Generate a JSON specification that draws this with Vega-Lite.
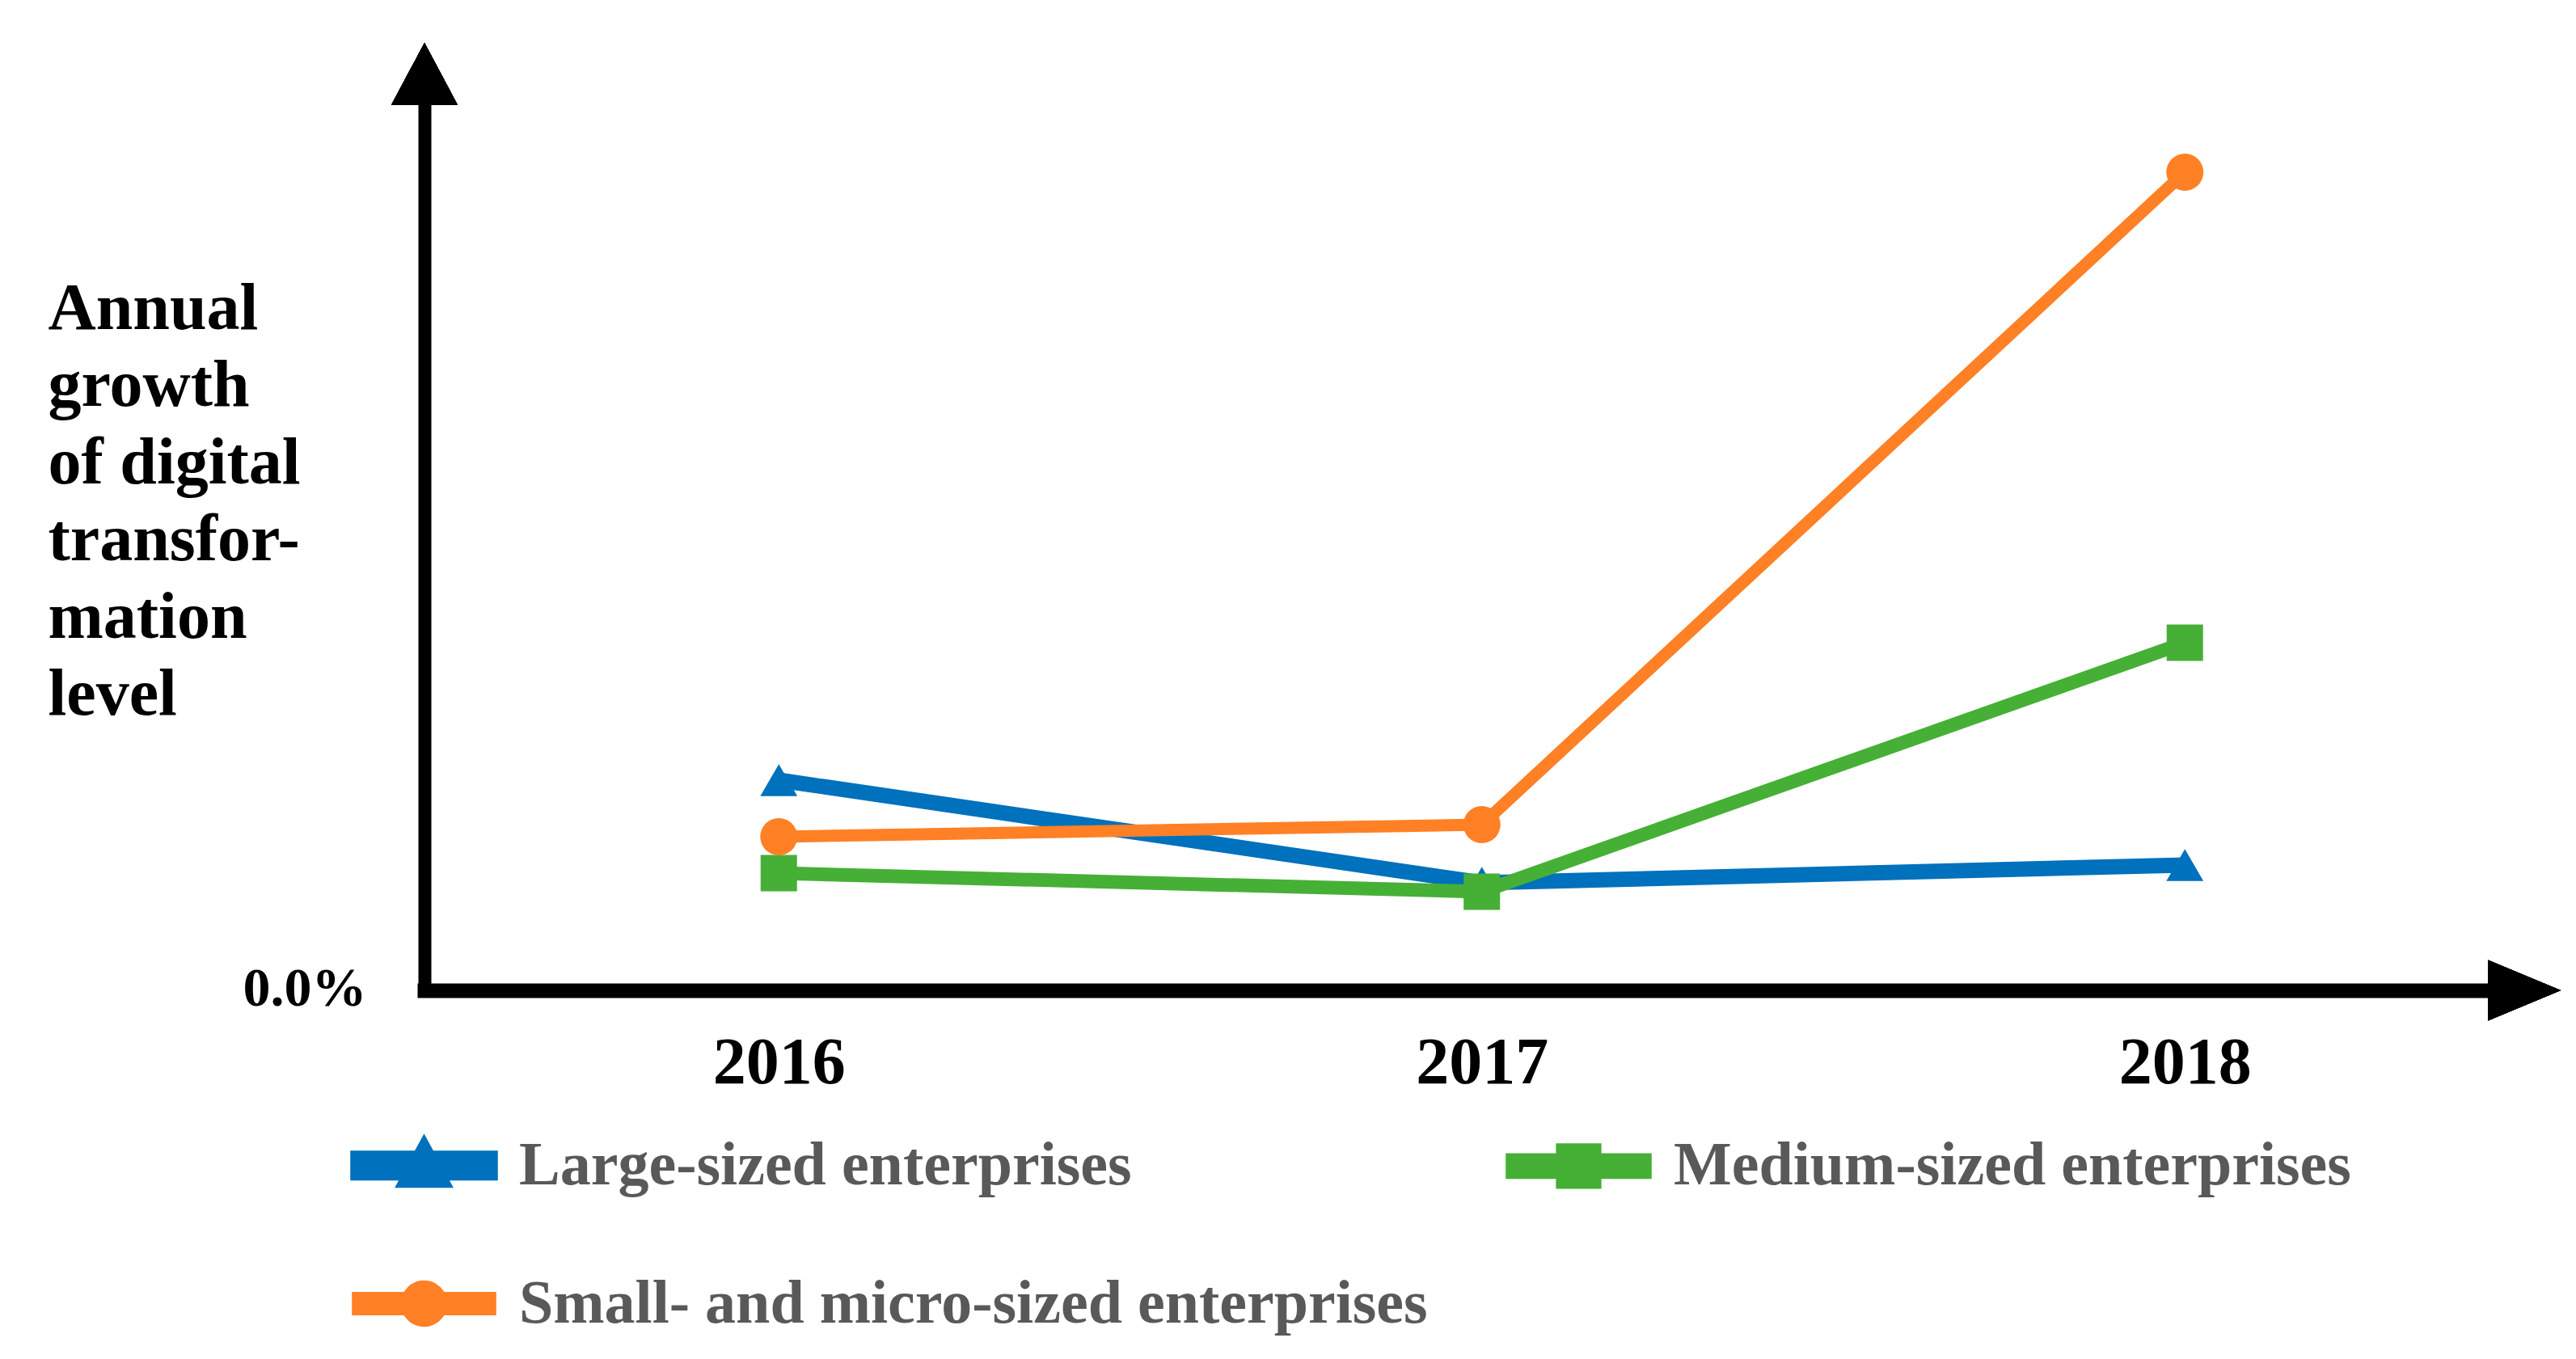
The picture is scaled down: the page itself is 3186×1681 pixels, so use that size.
{
  "$schema": "https://vega.github.io/schema/vega-lite/v6.json",
  "autosize": {"type": "none"},
  "padding": {"left": 525, "top": 130, "right": 109, "bottom": 456},
  "width": 2552,
  "height": 1095,
  "background": "white",
  "config": {"view": {"stroke": null}},
  "data": {
    "values": [
      {"series": "Large-sized enterprises", "year": 2016, "value": 26.0},
      {"series": "Large-sized enterprises", "year": 2017, "value": 13.3},
      {"series": "Large-sized enterprises", "year": 2018, "value": 15.5},
      {"series": "Medium-sized enterprises", "year": 2016, "value": 14.5},
      {"series": "Medium-sized enterprises", "year": 2017, "value": 12.2},
      {"series": "Medium-sized enterprises", "year": 2018, "value": 43.0},
      {"series": "Small- and micro-sized enterprises", "year": 2016, "value": 19.0},
      {"series": "Small- and micro-sized enterprises", "year": 2017, "value": 20.5},
      {"series": "Small- and micro-sized enterprises", "year": 2018, "value": 101.2}
    ]
  },
  "encoding": {
    "x": {
      "field": "year", "type": "quantitative",
      "scale": {"domain": [2015.496, 2018.431], "nice": false, "zero": false},
      "axis": {
        "title": null, "values": [2016, 2017, 2018], "format": "d",
        "grid": false, "ticks": false, "tickSize": 0,
        "domainColor": "black", "domainWidth": 18, "domainCap": "square",
        "labelFont": "Liberation Serif", "labelFontWeight": "bold", "labelFontSize": 82,
        "labelColor": "black", "labelPadding": 114, "labelBaseline": "alphabetic",
        "labelFlush": false, "labelOverlap": false
      }
    },
    "y": {
      "field": "value", "type": "quantitative",
      "scale": {"domain": [0, 109.5], "nice": false},
      "axis": {
        "values": [0], "labelExpr": "'0.0%'",
        "grid": false, "ticks": false, "tickSize": 0,
        "domainColor": "black", "domainWidth": 16, "domainCap": "square",
        "labelFont": "Liberation Serif", "labelFontWeight": "bold", "labelFontSize": 68,
        "labelColor": "black", "labelPadding": 72, "labelBaseline": "alphabetic", "labelOffset": 18,
        "labelFlush": false,
        "title": ["Annual", "growth", "of digital", "transfor-", "mation", "level"],
        "titleFont": "Liberation Serif", "titleFontWeight": "bold", "titleFontSize": 82,
        "titleColor": "black", "titleAngle": 0, "titleAlign": "left", "titleBaseline": "alphabetic",
        "titleX": -466, "titleY": 276, "titleLineHeight": 95.5
      }
    },
    "color": {
      "field": "series", "type": "nominal",
      "scale": {
        "domain": ["Large-sized enterprises", "Medium-sized enterprises", "Small- and micro-sized enterprises"],
        "range": ["#0071BC", "#45B035", "#FF8025"]
      },
      "legend": {
        "title": null, "orient": "none", "legendX": -92, "legendY": 1220,
        "direction": "horizontal",
        "columns": 2, "columnPadding": 70, "rowPadding": 25, "padding": 0,
        "symbolSize": 26740, "symbolStrokeWidth": 0, "symbolStrokeColor": "transparent", "symbolOpacity": 1,
        "labelFont": "Liberation Serif", "labelFontWeight": "bold", "labelFontSize": 76,
        "labelColor": "#595959", "labelOffset": 26, "labelLimit": 3000
      }
    }
  },
  "layer": [
    {
      "mark": {"type": "point", "filled": true, "opacity": 0, "size": 0, "strokeWidth": 0},
      "encoding": {
        "shape": {
          "field": "series", "type": "nominal",
          "scale": {
            "domain": ["Large-sized enterprises", "Medium-sized enterprises", "Small- and micro-sized enterprises"],
            "range": [
              "M-1,-0.11L1,-0.11L1,0.11L-1,0.11Z M-0.25,0.22L0,-0.24L0.25,0.22Z",
              "M-1,-0.09L1,-0.09L1,0.09L-1,0.09Z M-0.24,-0.24L0.24,-0.24L0.24,0.24L-0.24,0.24Z",
              "M-1,-0.085L1,-0.085L1,0.085L-1,0.085Z M-0.26,0A0.26,0.26 0 1,1 0.26,0A0.26,0.26 0 1,1 -0.26,0Z"
            ]
          },
          "legend": {"title": null}
        }
      }
    },
    {
      "mark": {"type": "line", "strokeCap": "butt", "strokeJoin": "miter"},
      "encoding": {
        "strokeWidth": {
          "field": "series", "type": "nominal",
          "scale": {
            "domain": ["Large-sized enterprises", "Medium-sized enterprises", "Small- and micro-sized enterprises"],
            "range": [19, 15, 14]
          },
          "legend": null
        }
      }
    },
    {
      "transform": [{"filter": "datum.series === 'Large-sized enterprises'"}],
      "mark": {"type": "point", "filled": true, "opacity": 1, "size": 2100, "shape": "triangle-up"}
    },
    {
      "transform": [{"filter": "datum.series === 'Medium-sized enterprises'"}],
      "mark": {"type": "point", "filled": true, "opacity": 1, "size": 2025, "shape": "square"}
    },
    {
      "transform": [{"filter": "datum.series === 'Small- and micro-sized enterprises'"}],
      "mark": {"type": "point", "filled": true, "opacity": 1, "size": 2116, "shape": "circle"}
    },
    {
      "mark": {"type": "point", "filled": true, "opacity": 1, "color": "black", "size": 6724, "shape": "M-1,0L0,-1.88L1,0Z"},
      "encoding": {
        "x": {"datum": 2015.496},
        "y": {"datum": 109.5},
        "color": {"value": "black"}
      }
    },
    {
      "mark": {"type": "point", "filled": true, "opacity": 1, "color": "black", "size": 5625, "shape": "M0,-1L2.4,0L0,1Z"},
      "encoding": {
        "x": {"datum": 2018.431},
        "y": {"datum": 0},
        "color": {"value": "black"}
      }
    }
  ]
}
